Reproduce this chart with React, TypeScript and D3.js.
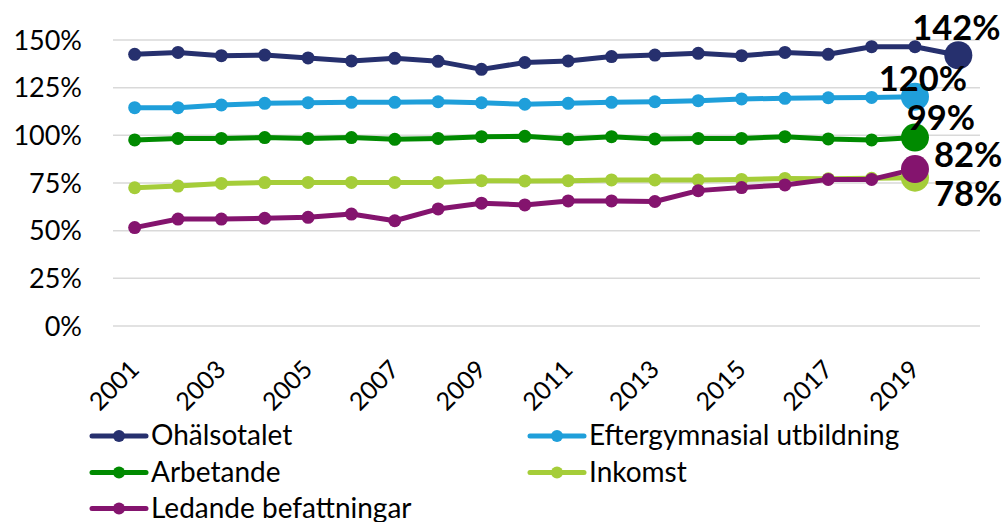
import React from "react";
import * as d3 from "d3";

const years = [2001, 2002, 2003, 2004, 2005, 2006, 2007, 2008, 2009, 2010, 2011, 2012, 2013, 2014, 2015, 2016, 2017, 2018, 2019, 2020];
const tickYears = [2001, 2003, 2005, 2007, 2009, 2011, 2013, 2015, 2017, 2019];
const yTicks = [0, 25, 50, 75, 100, 125, 150];

const ohalsotalet = [142.5, 143.5, 141.8, 142.1, 140.6, 139.0, 140.4, 138.8, 134.6, 138.2, 139.0, 141.3, 142.1, 143.0, 141.8, 143.5, 142.5, 146.5, 146.5, 142];
const eftergymnasial = [114.5, 114.5, 115.9, 116.8, 117.1, 117.3, 117.3, 117.6, 117.1, 116.3, 116.8, 117.3, 117.6, 118.2, 119.1, 119.4, 119.7, 119.9, 120.3];
const arbetande = [97.6, 98.4, 98.4, 98.8, 98.4, 98.8, 97.9, 98.4, 99.3, 99.5, 98.1, 99.3, 98.1, 98.4, 98.4, 99.3, 98.1, 97.6, 98.8];
const inkomst = [72.5, 73.4, 74.8, 75.2, 75.3, 75.3, 75.3, 75.3, 76.2, 76.1, 76.2, 76.6, 76.6, 76.6, 76.9, 77.4, 77.2, 77.5, 77.8];
const ledande = [51.6, 56.1, 56.1, 56.5, 57.0, 58.7, 55.2, 61.4, 64.4, 63.5, 65.6, 65.6, 65.3, 71.0, 72.6, 74.0, 76.9, 76.9, 82.3];

const seriesNames = ["Ohälsotalet", "Eftergymnasial utbildning", "Arbetande", "Inkomst", "Ledande befattningar"];
const seriesValues = [ohalsotalet, eftergymnasial, arbetande, inkomst, ledande];
const seriesColors = ["#26306e", "#1f9fda", "#008a00", "#a5cd39", "#84146e"];
// label placement (style): dx, dy, anchor
const labelPos = [
  { dx: -2, dy: -15, anchor: "middle" },
  { dx: 8, dy: -6, anchor: "middle" },
  { dx: 26, dy: -8, anchor: "middle" },
  { dx: 19, dy: 28, anchor: "start" },
  { dx: 19, dy: -2, anchor: "start" },
];
// legend placement (style)
const legendPos = [
  { x: 92, y: 436 },
  { x: 530, y: 436 },
  { x: 92, y: 472.5 },
  { x: 530, y: 472.5 },
  { x: 92, y: 508.5 },
];

const FONT = "Lato, 'Source Sans Pro', sans-serif";

export default function App() {
  const W = 1007, H = 522;
  const left = 113, right = 980, top = 40, bottom = 326;
  const x = d3.scaleBand<number>().domain(years).range([left, right]);
  const y = d3.scaleLinear().domain([0, 150]).range([bottom, top]);
  const cx = (yr: number) => (x(yr) as number) + x.bandwidth() / 2;

  const line = d3
    .line<number>()
    .x((_, i) => cx(years[i]))
    .y((d) => y(d));

  return (
    <svg width={W} height={H} style={{ position: "absolute", left: 0, top: 0, background: "#fff" }} fontFamily={FONT}>
      {yTicks.map((t) => (
        <g key={t}>
          <line x1={left} x2={right} y1={y(t)} y2={y(t)} stroke="#d9d9d9" strokeWidth={1.5} />
          <text x={82} y={y(t)} dy="0.36em" textAnchor="end" fontSize={27} fill="#000">
            {t}%
          </text>
        </g>
      ))}
      {tickYears.map((yr) => (
        <text
          key={yr}
          transform={`translate(${cx(yr) + 6},${371}) rotate(-45)`}
          textAnchor="end"
          fontSize={25}
          fill="#000"
        >
          {yr}
        </text>
      ))}
      {seriesValues.map((vals, s) => (
        <g key={s}>
          <path d={line(vals) || ""} fill="none" stroke={seriesColors[s]} strokeWidth={5} strokeLinejoin="round" />
          {vals.map((v, i) =>
            i < vals.length - 1 ? <circle key={i} cx={cx(years[i])} cy={y(v)} r={6.5} fill={seriesColors[s]} /> : null
          )}
        </g>
      ))}
      {seriesValues.map((vals, s) => {
        const i = vals.length - 1;
        return <circle key={s} cx={cx(years[i])} cy={y(vals[i])} r={14} fill={seriesColors[s]} />;
      })}
      {seriesValues.map((vals, s) => {
        const i = vals.length - 1;
        const p = labelPos[s];
        return (
          <text
            key={s}
            x={cx(years[i]) + p.dx}
            y={y(vals[i]) + p.dy}
            textAnchor={p.anchor as any}
            fontSize={34.5}
            fontWeight="bold"
            fill="#000"
          >
            {Math.round(vals[i])}%
          </text>
        );
      })}
      {seriesNames.map((name, s) => {
        const p = legendPos[s];
        return (
          <g key={name}>
            <line x1={p.x} x2={p.x + 54} y1={p.y} y2={p.y} stroke={seriesColors[s]} strokeWidth={5} strokeLinecap="round" />
            <circle cx={p.x + 27} cy={p.y} r={6} fill={seriesColors[s]} />
            <text x={p.x + 59} y={p.y + 9} fontSize={28} fill="#000">
              {name}
            </text>
          </g>
        );
      })}
    </svg>
  );
}
